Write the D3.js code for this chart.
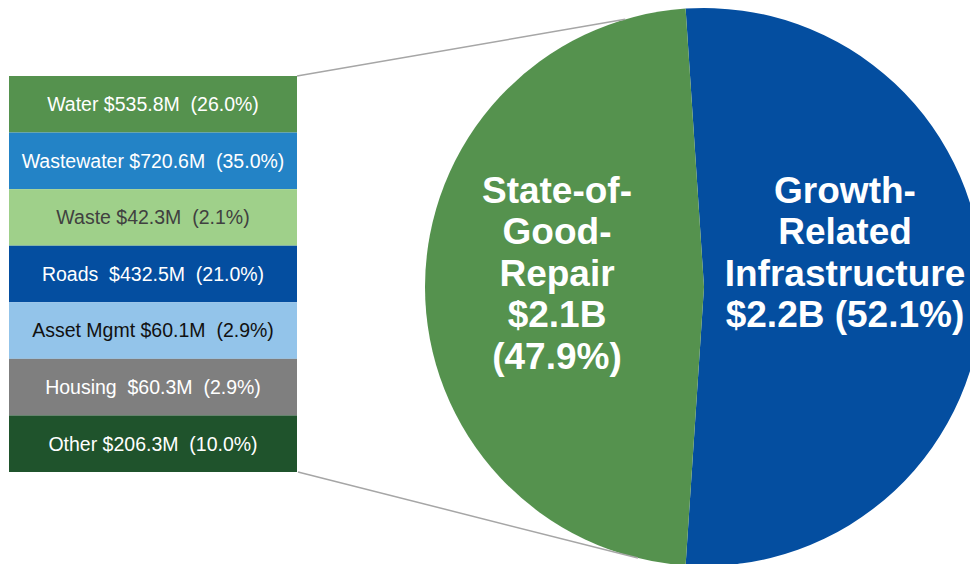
<!DOCTYPE html>
<html>
<head>
<meta charset="utf-8">
<script src="https://cdn.jsdelivr.net/npm/d3@7"></script>
<style>
  body { margin: 0; background: #fff; }
  svg { display: block; font-family: "Liberation Sans", Arial, sans-serif; }
</style>
</head>
<body>
<div id="chart"></div>
<script>
// breakdown of State-of-Good-Repair ($M)
const categories = ['Water', 'Wastewater', 'Waste', 'Roads', 'Asset Mgmt', 'Housing', 'Other'];
const amounts = ['$535.8M', '$720.6M', '$42.3M', '$432.5M', '$60.1M', '$60.3M', '$206.3M'];
const shares = ['(26.0%)', '(35.0%)', '(2.1%)', '(21.0%)', '(2.9%)', '(2.9%)', '(10.0%)'];
const gaps = [' ', ' ', ' ', '  ', ' ', '  ', ' '];

// pie slices
const pieNames = ['Growth', 'SoGR'];
const piePct = [52.1, 47.9];
const pieLines = [
    ['Growth-', 'Related', 'Infrastructure', '$2.2B (52.1%)'],
    ['State-of-', 'Good-', 'Repair', '$2.1B', '(47.9%)']
];

const boxColors = ['#55924e', '#2383c6', '#9fd08a', '#044ea0', '#93c4ea', '#7f7f7f', '#1f532c'];
const boxText = ['#fff', '#fff', '#404040', '#fff', '#111', '#fff', '#fff'];
const pieColors = { Growth: '#044ea0', SoGR: '#55924e' };

const W = 970, H = 564;
const cx = 704, cy = 287, r = 279;

const svg = d3.select('#chart').append('svg')
    .attr('width', W)
    .attr('height', H);

// pie, growth slice centred on the right side
const total = d3.sum(piePct);
const start = Math.PI / 2 - (piePct[0] / total) * Math.PI;
const pie = d3.pie().sort(null).value(d => d.v)
    .startAngle(start).endAngle(start + 2 * Math.PI);
const arc = d3.arc().innerRadius(0).outerRadius(r);
const slices = pie(pieNames.map((n, i) => ({ n: n, v: piePct[i] })));

const pg = svg.append('g').attr('transform', `translate(${cx},${cy})`);
pg.selectAll('path')
    .data(slices)
    .enter()
    .append('path')
    .attr('d', arc)
    .attr('fill', d => pieColors[d.data.n]);

// stacked boxes on the left
const y = d3.scaleBand()
    .domain(categories)
    .range([76, 472])
    .padding(0);
const bx = 9, bw = 288;

// connector lines from the stack to the green slice
const conn = [
    [[bx + bw, y.range()[0]], -16.4],
    [[bx + bw + 1, y.range()[1]], 193.7]
];
svg.selectAll('line.conn')
    .data(conn)
    .enter()
    .append('line')
    .attr('x1', d => d[0][0])
    .attr('y1', d => d[0][1])
    .attr('x2', d => cx + r * Math.sin(d[1] * Math.PI / 180))
    .attr('y2', d => cy - r * Math.cos(d[1] * Math.PI / 180))
    .attr('stroke', '#a6a6a6')
    .attr('stroke-width', 1.5);

const boxes = svg.selectAll('g.box')
    .data(categories)
    .enter()
    .append('g')
    .attr('transform', d => `translate(${bx},${y(d)})`);

boxes.append('rect')
    .attr('width', bw)
    .attr('height', y.bandwidth())
    .attr('fill', (_, i) => boxColors[i]);

boxes.append('text')
    .attr('x', bw / 2)
    .attr('y', y.bandwidth() / 2)
    .attr('dy', '0.35em')
    .attr('text-anchor', 'middle')
    .style('white-space', 'pre')
    .style('font-size', '19.5px')
    .attr('fill', (_, i) => boxText[i])
    .text((d, i) => `${d}${gaps[i]}${amounts[i]}  ${shares[i]}`);

// slice labels
const labelPos = [[845, 190], [557, 190]];
const lineH = 41.5;
pieLines.forEach((lines, k) => {
    const t = svg.append('text')
        .attr('text-anchor', 'middle')
        .attr('fill', '#fff')
        .style('font-weight', 'bold')
        .style('font-size', '37px');
    t.selectAll('tspan')
        .data(lines)
        .enter()
        .append('tspan')
        .attr('x', labelPos[k][0])
        .attr('y', (_, i) => labelPos[k][1] + i * lineH)
        .attr('dy', '0.35em')
        .text(d => d);
});
</script>
</body>
</html>
